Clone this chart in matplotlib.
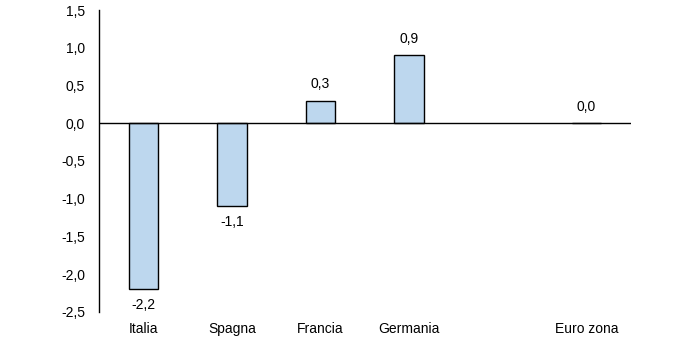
import matplotlib.pyplot as plt
import numpy as np

plt.rcParams['font.family'] = ['Liberation Sans Narrow', 'Liberation Sans', 'DejaVu Sans']

paesi = ['Italia', 'Spagna', 'Francia', 'Germania', '', 'Euro zona']
valori = [-2.2, -1.1, 0.3, 0.9, np.nan, 0.0]
yticks = [-2.5, -2.0, -1.5, -1.0, -0.5, 0.0, 0.5, 1.0, 1.5]

def virgola(v):
    return f'{v:.1f}'.replace('.', ',')

fig = plt.figure(figsize=(7, 3.45), dpi=100)
ax = fig.add_axes([0.1414, 0.0957, 0.7595, 0.8753])

x = np.arange(len(paesi))
vals = np.array(valori)
ok = ~np.isnan(vals)
ax.bar(x[ok], vals[ok], width=0.33, color='#BDD7EE', edgecolor='black', linewidth=1, zorder=2)

for xi, v in zip(x[ok], vals[ok]):
    if v < 0:
        ax.annotate(virgola(v), (xi, v), xytext=(0, -6), textcoords='offset points',
                    ha='center', va='top', fontsize=10)
    else:
        ax.annotate(virgola(v), (xi, v), xytext=(0, 7), textcoords='offset points',
                    ha='center', va='bottom', fontsize=10)

ax.axhline(0, color='black', linewidth=1, zorder=3)
ax.set_xlim(-0.5, len(paesi) - 0.5)
ax.set_ylim(-2.5, 1.5)
ax.set_yticks(yticks)
ax.set_yticklabels([virgola(t) for t in yticks], fontsize=10)
ax.set_xticks(x)
ax.set_xticklabels(paesi, fontsize=10)
ax.tick_params(axis='both', length=0)
ax.tick_params(axis='x', pad=7)
ax.tick_params(axis='y', pad=10)

for s in ['top', 'right', 'bottom']:
    ax.spines[s].set_visible(False)
ax.spines['left'].set_linewidth(1)

fig.savefig('out.png', dpi=100)
